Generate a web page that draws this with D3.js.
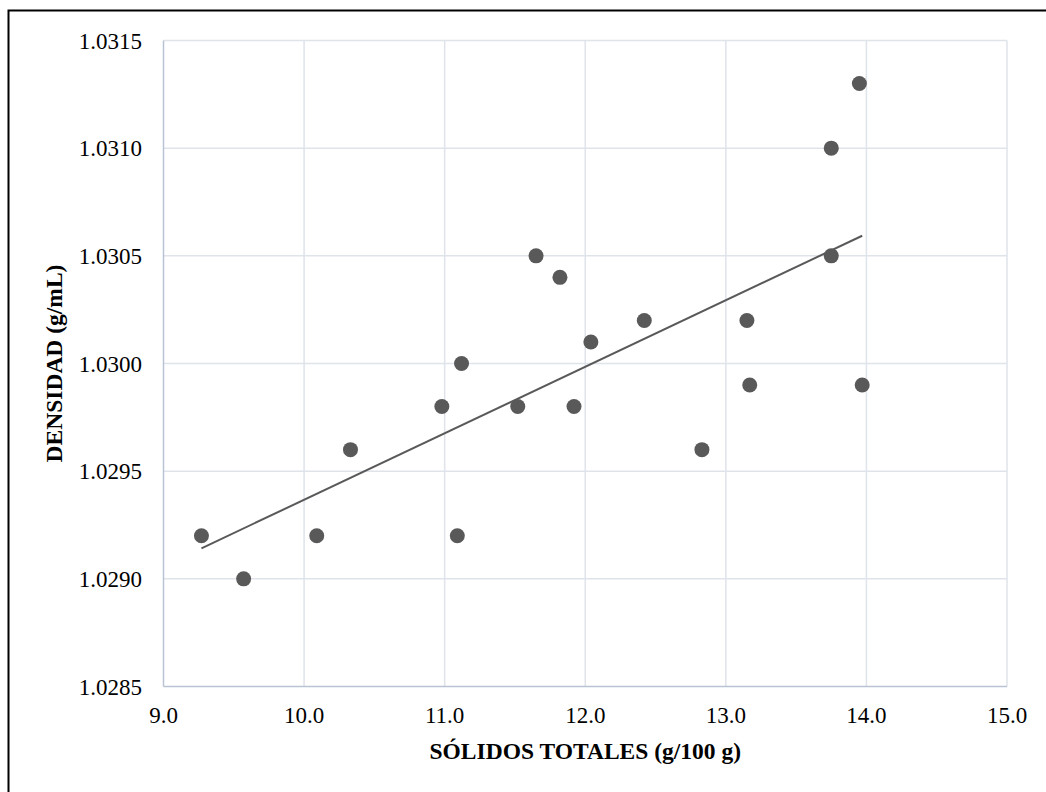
<!DOCTYPE html>
<html><head><meta charset="utf-8">
<script src="https://cdn.jsdelivr.net/npm/d3@7"></script>
<style>body{margin:0;background:#fff}svg{display:block}</style>
</head><body>
<svg id="c" width="1046" height="792"></svg>
<script>
const solidos = [9.27, 9.57, 10.09, 10.33, 10.98, 11.09, 11.12, 11.52, 11.65, 11.82, 11.92, 12.04, 12.42, 12.83, 13.15, 13.17, 13.75, 13.75, 13.95, 13.97];
const densidad = [1.0292, 1.0290, 1.0292, 1.0296, 1.0298, 1.0292, 1.0300, 1.0298, 1.0305, 1.0304, 1.0298, 1.0301, 1.0302, 1.0296, 1.0302, 1.0299, 1.0310, 1.0305, 1.0313, 1.0299];
const xTicks = [9.0, 10.0, 11.0, 12.0, 13.0, 14.0, 15.0];
const yTicks = [1.0285, 1.0290, 1.0295, 1.0300, 1.0305, 1.0310, 1.0315];
const xTitle = "SÓLIDOS TOTALES (g/100 g)";
const yTitle = "DENSIDAD (g/mL)";

const svg = d3.select("#c");
const L = 163.5, R = 1007, T = 40.5, B = 686.5;
const x = d3.scaleLinear().domain([9, 15]).range([L, R]);
const y = d3.scaleLinear().domain([1.0285, 1.0315]).range([B, T]);

// outer frame (only top/left visible)
svg.append("rect").attr("x", 8.5).attr("y", 10.5).attr("width", 1100).attr("height", 900)
  .attr("fill", "none").attr("stroke", "#000").attr("stroke-width", 2);

// gridlines
const g = svg.append("g");
g.selectAll(".vg").data(xTicks.slice(1)).join("line")
  .attr("x1", d => x(d)).attr("x2", d => x(d)).attr("y1", T).attr("y2", B)
  .attr("stroke", "#dfe3ea").attr("stroke-width", 1.5);
g.selectAll(".hg").data(yTicks.slice(1)).join("line")
  .attr("x1", L).attr("x2", R).attr("y1", d => y(d)).attr("y2", d => y(d))
  .attr("stroke", "#dfe3ea").attr("stroke-width", 1.5);

// axes lines
svg.append("line").attr("x1", L).attr("x2", L).attr("y1", T).attr("y2", B)
  .attr("stroke", "#b9c3d3").attr("stroke-width", 1.5);
svg.append("line").attr("x1", L).attr("x2", R).attr("y1", B).attr("y2", B)
  .attr("stroke", "#b9c3d3").attr("stroke-width", 1.5);

const font = "'Liberation Serif','Times New Roman',serif";
// tick labels
svg.selectAll(".xt").data(xTicks).join("text")
  .attr("x", d => x(d)).attr("y", 723).attr("text-anchor", "middle")
  .attr("font-family", font).attr("font-size", 23).attr("fill", "#000")
  .text(d => d3.format(".1f")(d));
svg.selectAll(".yt").data(yTicks).join("text")
  .attr("x", 142).attr("y", d => y(d)).attr("dy", "0.35em").attr("text-anchor", "end")
  .attr("font-family", font).attr("font-size", 23).attr("fill", "#000")
  .text(d => d3.format(".4f")(d));

// titles
svg.append("text").attr("x", (L + R) / 2).attr("y", 759).attr("text-anchor", "middle")
  .attr("font-family", font).attr("font-size", 23.5).attr("font-weight", "bold").text(xTitle);
svg.append("text").attr("transform", `translate(62,${(T + B) / 2}) rotate(-90)`).attr("text-anchor", "middle")
  .attr("font-family", font).attr("font-size", 23.5).attr("font-weight", "bold").text(yTitle);

// linear trendline (least squares from the data)
const n = solidos.length;
const mx = d3.mean(solidos), my = d3.mean(densidad);
let sxy = 0, sxx = 0;
for (let i = 0; i < n; i++) { sxy += (solidos[i] - mx) * (densidad[i] - my); sxx += (solidos[i] - mx) ** 2; }
const slope = sxy / sxx, icpt = my - slope * mx;
const x0 = d3.min(solidos), x1 = d3.max(solidos);
svg.append("line").attr("x1", x(x0)).attr("y1", y(icpt + slope * x0))
  .attr("x2", x(x1)).attr("y2", y(icpt + slope * x1))
  .attr("stroke", "#595959").attr("stroke-width", 2);

// points
svg.selectAll(".pt").data(solidos.map((s, i) => [s, densidad[i]])).join("circle")
  .attr("cx", d => x(d[0])).attr("cy", d => y(d[1])).attr("r", 7.5)
  .attr("fill", "#595959");
</script>
</body></html>
